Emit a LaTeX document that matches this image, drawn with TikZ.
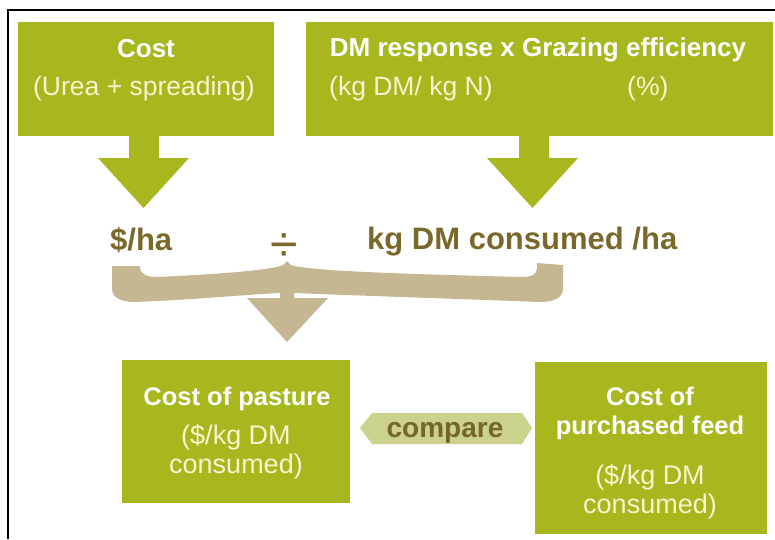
\documentclass[tikz,border=0pt]{standalone}
\usepackage{fontspec}
\setmainfont{Liberation Sans}
\definecolor{boxgreen}{RGB}{169,183,31}
\definecolor{hexgreen}{RGB}{204,210,140}
\definecolor{bracetan}{RGB}{196,183,145}
\definecolor{olivetext}{RGB}{122,104,42}
\definecolor{comparetext}{RGB}{116,102,44}
\definecolor{cream}{RGB}{248,244,205}
\begin{document}
\begin{tikzpicture}[x=1pt,y=-1pt,
  gbox/.style={fill=boxgreen,draw=none,inner sep=0pt},
  toptitle/.style={text=white,font=\bfseries\fontsize{26}{30}\selectfont,inner sep=0pt,anchor=base},
  topsub/.style={text=cream,font=\fontsize{26.5}{30}\selectfont,inner sep=0pt,anchor=base},
  lowtitle/.style={text=white,font=\bfseries\fontsize{25.5}{30}\selectfont,inner sep=0pt,anchor=base},
  lowsub/.style={text=cream,font=\fontsize{27}{30}\selectfont,inner sep=0pt,anchor=base},
  midtext/.style={text=olivetext,font=\bfseries\fontsize{31}{36}\selectfont,inner sep=0pt,anchor=base west},
  blockarrow/.style={fill=boxgreen,draw=none}]
\useasboundingbox (0,0) rectangle (775,539);
% frame
\draw[line width=2pt] (775,9.5) -- (7.5,9.5) -- (7.5,539);

% top boxes
\node[gbox,minimum width=256pt,minimum height=114pt] (costbox) at (146,79) {};
\node[gbox,minimum width=467pt,minimum height=114pt] (dmbox) at (539.5,79) {};
\node[toptitle] (costtitle) at (146,57) {Cost};
\node[topsub] (costsub) at (144,95) {(Urea + spreading)};
\node[toptitle] (dmtitle) at (538,56) {DM response x Grazing efficiency};
\node[topsub,anchor=base west] (dmsub) at (329,95) {(kg DM/ kg N)};
\node[topsub,anchor=base west] (gesub) at (627,95) {(\%)};

% block arrows from top boxes
\fill[blockarrow] (129,136) -- (159,136) -- (159,158) -- (189,158) -- (143.5,208) -- (98,158) -- (129,158) -- cycle;
\fill[blockarrow] (519,136) -- (549,136) -- (549,158) -- (578,158) -- (532.5,208) -- (487,158) -- (519,158) -- cycle;

% middle line
\node[midtext] (perha) at (110,250) {\$/ha};
\node[text=olivetext,font=\fontsize{50}{54}\selectfont,inner sep=0pt] (divide) at (284,248) {÷};
\node[midtext] (kgdm) at (367,249) {kg DM consumed /ha};

% brace with arrow
\fill[bracetan] (112,266) -- (112,289) .. controls (112,297) and (120,302) .. (135,302)
  .. controls (190,300) and (240,295) .. (280,293) -- (280,298) -- (247,298) -- (287,342)
  -- (328,298) -- (294,298) -- (294,293)
  .. controls (340,295) and (490,300) .. (540,302) .. controls (555,302) and (563,297) .. (563,289)
  -- (563,265) -- (537,263) -- (537,268) .. controls (537,274) and (532,277) .. (522,277)
  .. controls (450,275) and (310,272) .. (291,265) -- (287,261) -- (283,265)
  .. controls (270,271) and (200,275) .. (157,277) .. controls (147,277) and (140,274) .. (140,268)
  -- (140,266) -- cycle;

% bottom boxes
\node[gbox,minimum width=228pt,minimum height=143pt] (pasturebox) at (236,431.5) {};
\node[gbox,minimum width=232pt,minimum height=172pt] (feedbox) at (651,448) {};
\node[lowtitle] (pasturetitle) at (237,405) {Cost of pasture};
\node[lowsub] (pasturesubA) at (236,444) {(\$/kg DM};
\node[lowsub] (pasturesubB) at (236,473) {consumed)};
\node[lowtitle] (feedtitleA) at (650,405) {Cost of};
\node[lowtitle] (feedtitleB) at (650,434) {purchased feed};
\node[lowsub] (feedsubA) at (650,484) {(\$/kg DM};
\node[lowsub] (feedsubB) at (650,513) {consumed)};

% compare hexagon
\fill[hexgreen] (360,428) -- (372,413) -- (522,413) -- (532,428) -- (522,444) -- (372,444) -- cycle;
\node[text=comparetext,font=\bfseries\fontsize{28}{32}\selectfont,inner sep=0pt,anchor=base] (compare) at (445,437) {compare};
\end{tikzpicture}
\end{document}
